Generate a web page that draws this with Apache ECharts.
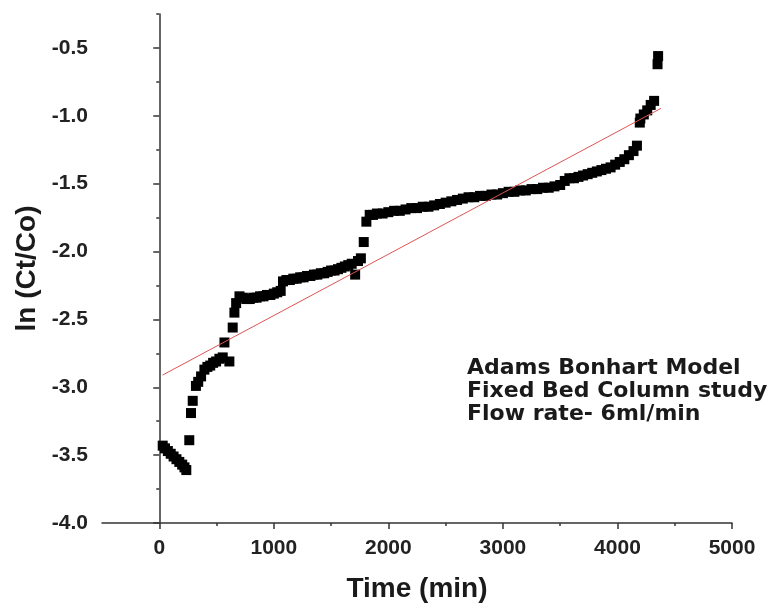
<!DOCTYPE html>
<html>
<head>
<meta charset="utf-8">
<script src="https://cdn.jsdelivr.net/npm/echarts@6/dist/echarts.min.js"></script>
<style>
  html, body { margin: 0; padding: 0; background: #fff; }
  #main { width: 774px; height: 606px; }
</style>
</head>
<body>
<div id="main"></div>
<script>
// measured points, time (min) and ln(Ct/Co)
const times = [
  30, 50, 75, 100, 125, 150, 175, 200, 220, 236,
  262, 277, 292, 320, 340, 365, 394, 420, 445, 470, 496, 525, 554, 569, 612, 641, 656, 671, 700,
  730, 760, 790, 820, 850, 880, 910, 940, 970, 1000, 1030, 1060, 1080, 1110, 1140, 1170, 1200,
  1230, 1260, 1290, 1320, 1350, 1380, 1410, 1440, 1470, 1500, 1530, 1560, 1590, 1620, 1650,
  1680, 1710, 1735, 1760, 1785,
  1808, 1837, 1866, 1900, 1950, 2000, 2050, 2100, 2150, 2200, 2250, 2300, 2350, 2400, 2450,
  2500, 2550, 2600, 2650, 2700, 2750, 2800, 2850, 2900, 2950, 3000, 3050, 3100, 3150, 3200,
  3250, 3300, 3350, 3400, 3450, 3500, 3540, 3580, 3620, 3660, 3700, 3740, 3780, 3820, 3860,
  3900, 3940, 3980, 4020, 4060, 4100, 4140, 4170, 4195,
  4200, 4230, 4260, 4290, 4320, 4350, 4355, 4420
];
const lnRatio = [
  -3.43, -3.45, -3.47, -3.49, -3.51, -3.53, -3.55, -3.57, -3.59, -3.61,
  -3.39, -3.19, -3.10, -2.99, -2.96, -2.92, -2.87, -2.85, -2.84, -2.82, -2.81, -2.79, -2.78, -2.67, -2.81, -2.56, -2.45, -2.38, -2.33,
  -2.34, -2.35, -2.35, -2.34, -2.34, -2.33, -2.33, -2.32, -2.32, -2.31, -2.30, -2.29, -2.22, -2.21, -2.21, -2.20,
  -2.20, -2.19, -2.19, -2.18, -2.18, -2.17, -2.17, -2.16, -2.16, -2.15, -2.14, -2.14, -2.13, -2.12, -2.11,
  -2.10, -2.09, -2.17, -2.07, -2.05,
  -1.93, -1.78, -1.73, -1.73, -1.72, -1.72, -1.71, -1.70, -1.70, -1.69, -1.68, -1.68, -1.67, -1.67, -1.66,
  -1.65, -1.64, -1.63, -1.62, -1.61, -1.60, -1.60, -1.59, -1.59, -1.58, -1.58, -1.57, -1.56, -1.56, -1.55,
  -1.55, -1.54, -1.54, -1.53, -1.53, -1.52, -1.51, -1.48, -1.46, -1.46, -1.45, -1.44, -1.43, -1.42, -1.41,
  -1.40, -1.39, -1.38, -1.36, -1.34, -1.32, -1.29, -1.26, -1.22,
  -1.05, -1.02, -0.99, -0.96, -0.92, -0.89, -0.62, -0.56
];

// linear fit (Adams Bonhart)
const fitTimes = [29, 4380];
const fitValues = [-2.91, -0.945];

const xMajor = [0, 1000, 2000, 3000, 4000, 5000];
const xMinor = [500, 1500, 2500, 3500, 4500];
const yMajor = [-4.0, -3.5, -3.0, -2.5, -2.0, -1.5, -1.0, -0.5];
const yMinor = [-3.75, -3.25, -2.75, -2.25, -1.75, -1.25, -0.75, -0.25];

const noteLines = ['Adams Bonhart Model', 'Fixed Bed Column study', 'Flow rate- 6ml/min'];

let chart = echarts.init(document.getElementById('main'));

const axisColor = '#333';
const labelStyle = {
  fontFamily: 'Liberation Sans', fontWeight: 'bold', fontSize: 21, color: '#222'
};
const nameStyle = {
  fontFamily: 'Liberation Sans', fontWeight: 'bold', fontSize: 28, color: '#1a1a1a'
};

let points = [];
for (let i = 0; i < times.length; i++) {
  points.push([times[i], lnRatio[i]]);
}
let fitLine = fitTimes.map((t, i) => [t, fitValues[i]]);

let option = {
  animation: false,
  backgroundColor: '#fff',
  grid: { left: 102, right: 42, top: 14, bottom: 83, outerBoundsMode: 'none' },
  xAxis: [
    {
      type: 'value', min: -500, max: 5000, interval: 500,
      name: 'Time (min)', nameLocation: 'middle', nameGap: 52,
      nameTextStyle: nameStyle,
      axisLine: { show: true, lineStyle: { color: axisColor, width: 1.5 } },
      axisTick: { show: true, customValues: xMajor, length: 6, lineStyle: { color: axisColor, width: 1.5 } },
      axisLabel: Object.assign({
        customValues: xMajor, margin: 15,
        formatter: v => String(v)
      }, labelStyle),
      splitLine: { show: false }
    },
    {
      type: 'value', min: -500, max: 5000, interval: 500, position: 'bottom',
      axisLine: { show: false },
      axisTick: { show: true, customValues: xMinor, length: 3, lineStyle: { color: axisColor, width: 1.5 } },
      axisLabel: { show: false },
      splitLine: { show: false }
    }
  ],
  yAxis: [
    {
      type: 'value', min: -4, max: -0.25, interval: 0.5,
      name: 'ln (Ct/Co)', nameLocation: 'middle', nameGap: 61,
      nameTextStyle: nameStyle,
      axisLine: { show: true, lineStyle: { color: axisColor, width: 1.5 } },
      axisTick: { show: true, customValues: yMajor, length: 6, lineStyle: { color: axisColor, width: 1.5 } },
      axisLabel: Object.assign({
        customValues: yMajor, margin: 14,
        formatter: v => Number(v).toFixed(1)
      }, labelStyle),
      splitLine: { show: false }
    },
    {
      type: 'value', min: -4, max: -0.25, interval: 0.5, position: 'left',
      axisLine: { show: false },
      axisTick: { show: true, customValues: yMinor, length: 3, lineStyle: { color: axisColor, width: 1.5 } },
      axisLabel: { show: false },
      splitLine: { show: false }
    }
  ],
  graphic: [
    {
      type: 'text', left: 467, top: 357, z: 10,
      style: {
        text: noteLines.join('\n'),
        fontFamily: 'DejaVu Sans', fontWeight: 'bold', fontSize: 22, lineHeight: 23,
        fill: '#1a1a1a'
      }
    }
  ],
  series: [
    {
      type: 'scatter', xAxisIndex: 0, yAxisIndex: 0,
      symbol: 'rect', symbolSize: 10,
      itemStyle: { color: '#000', opacity: 1 },
      data: points, z: 2
    },
    {
      type: 'line', xAxisIndex: 0, yAxisIndex: 0,
      symbol: 'none',
      lineStyle: { color: '#dd5555', width: 1 },
      data: fitLine, z: 3
    }
  ]
};

chart.setOption(option);
</script>
</body>
</html>
